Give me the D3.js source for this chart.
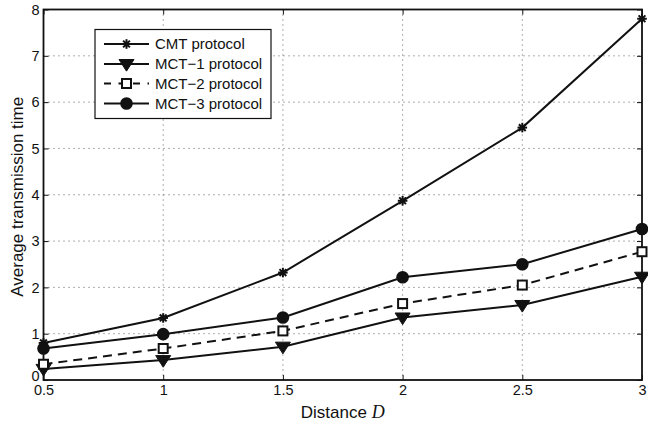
<!DOCTYPE html>
<html><head><meta charset="utf-8">
<script src="https://cdn.jsdelivr.net/npm/d3@7"></script>
<style>body{margin:0;background:#fff}svg{display:block}text{font-family:"Liberation Sans",Arial,sans-serif;fill:#111}</style>
</head><body><svg id="c" width="648" height="428"></svg>
<script>
const distances = [0.5, 1, 1.5, 2, 2.5, 3];
const cmt  = [0.80, 1.34, 2.32, 3.87, 5.45, 7.80];
const mct1 = [0.24, 0.43, 0.72, 1.35, 1.62, 2.23];
const mct2 = [0.34, 0.68, 1.06, 1.65, 2.05, 2.77];
const mct3 = [0.68, 0.99, 1.35, 2.22, 2.50, 3.26];
const xTicks = [0.5, 1, 1.5, 2, 2.5, 3];
const xTickLabels = ["0.5", "1", "1.5", "2", "2.5", "3"];
const yTicks = [0, 1, 2, 3, 4, 5, 6, 7, 8];
const seriesNames = ["CMT protocol", "MCT\u22121 protocol", "MCT\u22122 protocol", "MCT\u22123 protocol"];

const svg = d3.select("#c");
const L = 43.5, R = 642, T = 9.5, B = 380;
const x = d3.scaleLinear().domain([0.5, 3]).range([L, R]);
const y = d3.scaleLinear().domain([0, 8]).range([B, T]);

// grid
const g = svg.append("g");
g.selectAll(".gx").data(xTicks.slice(1, -1)).enter().append("line")
  .attr("x1", d => x(d)).attr("x2", d => x(d)).attr("y1", T).attr("y2", B)
  .attr("stroke", "#333").attr("stroke-width", 0.8).attr("stroke-dasharray", "1,4");
g.selectAll(".gy").data(yTicks.slice(1, -1)).enter().append("line")
  .attr("y1", d => y(d)).attr("y2", d => y(d)).attr("x1", L).attr("x2", R)
  .attr("stroke", "#333").attr("stroke-width", 0.8).attr("stroke-dasharray", "1,4");

// axes (MATLAB style inward ticks on all sides)
const ax = svg.append("g");
const xb = d3.axisBottom(x).tickValues(xTicks).tickFormat((d, i) => xTickLabels[i]).tickSize(-5).tickPadding(5);
const xt = d3.axisTop(x).tickValues(xTicks).tickFormat("").tickSize(-5);
const yl = d3.axisLeft(y).tickValues(yTicks).tickFormat(d3.format("d")).tickSize(-5).tickPadding(4);
const yr = d3.axisRight(y).tickValues(yTicks).tickFormat("").tickSize(-5);
ax.append("g").attr("transform", `translate(0,${B})`).call(xb);
ax.append("g").attr("transform", `translate(0,${T})`).call(xt);
const ylg = ax.append("g").attr("transform", `translate(${L},0)`).call(yl);
ax.append("g").attr("transform", `translate(${R},0)`).call(yr);
ax.selectAll(".domain").remove();
ax.selectAll(".tick line").attr("stroke", "#111").attr("stroke-width", 1);
ax.selectAll(".tick text").attr("font-size", 14.5).style("font-family", '"Liberation Sans",Arial,sans-serif').attr("fill", "#111");
ylg.selectAll(".tick text").filter(d => d === 0).attr("dy", "0.05em");
svg.append("rect").attr("x", L).attr("y", T).attr("width", R - L).attr("height", B - T)
  .attr("fill", "none").attr("stroke", "#111").attr("stroke-width", 1.8);

// axis labels
svg.append("text").attr("transform", `translate(23,${(T + B) / 2 + 2}) rotate(-90)`)
  .attr("text-anchor", "middle").attr("font-size", 17).text("Average transmission time");
const xl = svg.append("text").attr("x", (L + R) / 2).attr("y", 418).attr("text-anchor", "middle").attr("font-size", 17);
xl.append("tspan").text("Distance ");
xl.append("tspan").attr("font-style", "italic").style("font-family", '"Liberation Serif","Times New Roman",serif').attr("font-size", 18).text("D");

// markers
function drawMarker(sel, type, cx, cy) {
  if (type === "star") {
    const r = 4.8;
    for (let a = 0; a < 4; a++) {
      const t = a * Math.PI / 4;
      sel.append("line").attr("x1", cx - r * Math.cos(t)).attr("y1", cy - r * Math.sin(t))
        .attr("x2", cx + r * Math.cos(t)).attr("y2", cy + r * Math.sin(t))
        .attr("stroke", "#111").attr("stroke-width", 2);
    }
    sel.append("circle").attr("cx", cx).attr("cy", cy).attr("r", 2.6).attr("fill", "#111");
  } else if (type === "tri") {
    const s = 7.5;
    sel.append("path").attr("d", `M${cx - s},${cy - s * 0.6}L${cx + s},${cy - s * 0.6}L${cx},${cy + s * 0.95}Z`)
      .attr("fill", "#111").attr("stroke", "#111").attr("stroke-width", 1);
  } else if (type === "sq") {
    sel.append("rect").attr("x", cx - 4.5).attr("y", cy - 4.5).attr("width", 9).attr("height", 9)
      .attr("fill", "#fff").attr("stroke", "#111").attr("stroke-width", 2);
  } else if (type === "circ") {
    sel.append("circle").attr("cx", cx).attr("cy", cy).attr("r", 6.3).attr("fill", "#111");
  }
}

const series = [
  {vals: cmt, marker: "star", dash: null},
  {vals: mct1, marker: "tri", dash: null},
  {vals: mct2, marker: "sq", dash: "9,6"},
  {vals: mct3, marker: "circ", dash: null}
];
const line = d3.line().x(d => x(d[0])).y(d => y(d[1]));
const plot = svg.append("g");
series.forEach(s => {
  const pts = distances.map((d, i) => [d, s.vals[i]]);
  plot.append("path").attr("d", line(pts)).attr("fill", "none").attr("stroke", "#111")
    .attr("stroke-width", 2).attr("stroke-dasharray", s.dash);
  const mg = plot.append("g");
  pts.forEach(p => drawMarker(mg, s.marker, x(p[0]), y(p[1])));
});

// legend
const lg = svg.append("g");
lg.append("rect").attr("x", 95).attr("y", 29.5).attr("width", 176).attr("height", 89)
  .attr("fill", "#fff").attr("stroke", "#111").attr("stroke-width", 1.2);
const rowsY = [44, 64, 83.5, 103.5];
series.forEach((s, i) => {
  const yy = rowsY[i];
  lg.append("line").attr("x1", 104).attr("x2", 149).attr("y1", yy).attr("y2", yy)
    .attr("stroke", "#111").attr("stroke-width", 2).attr("stroke-dasharray", s.dash ? "7,7.5" : null);
  drawMarker(lg, s.marker, 126.5, yy);
  lg.append("text").attr("x", 155).attr("y", yy + 5).attr("font-size", 15).text(seriesNames[i]);
});
</script></body></html>
